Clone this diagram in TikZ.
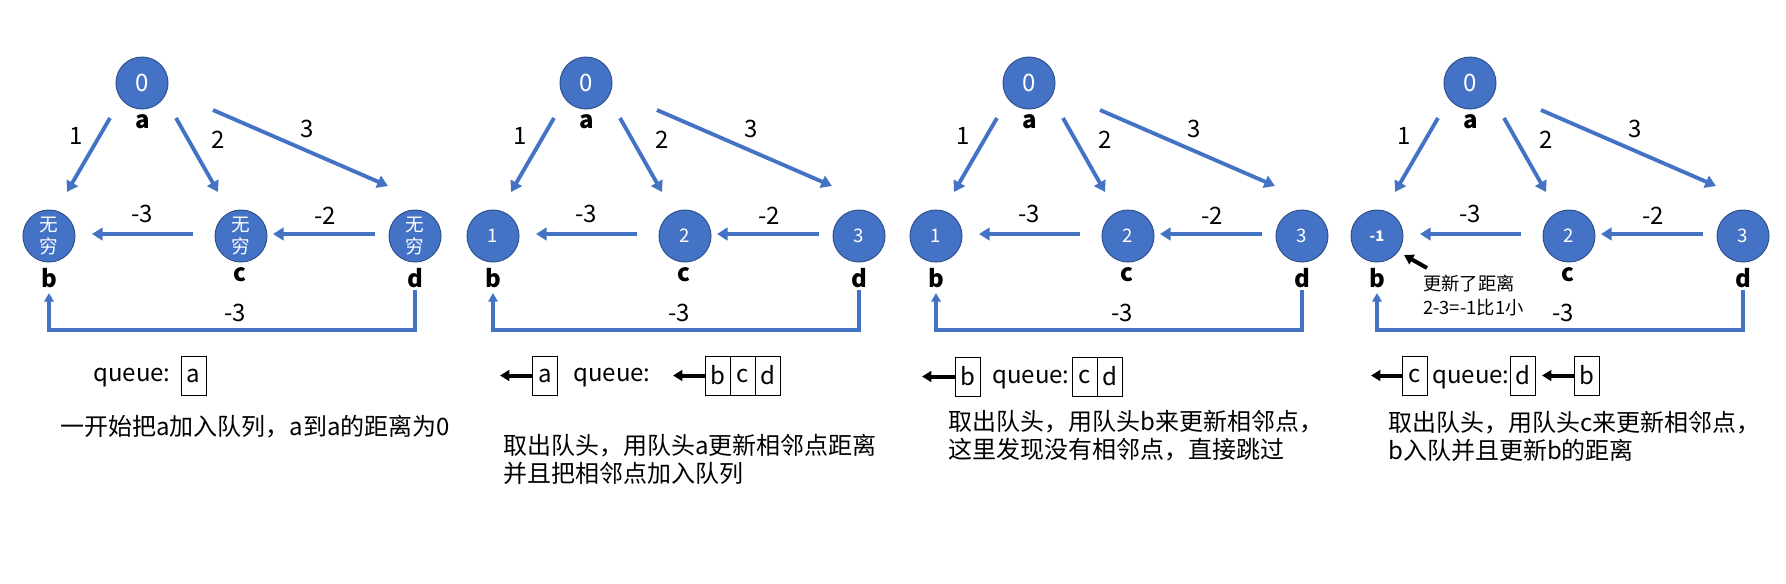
\documentclass[tikz,border=0pt]{standalone}
\usepackage{fontspec}
\setmainfont{Noto Sans CJK SC}
\usetikzlibrary{arrows.meta,calc,positioning}
\definecolor{vblue}{HTML}{4472C4}
\definecolor{vrim}{HTML}{2F528F}
\tikzset{
  vtx/.style={circle,fill=vblue,draw=vrim,line width=0.75pt,minimum size=39pt,
    inner sep=0pt,text=white,align=center,font=\fontsize{14}{16}\selectfont},
  tag/.style={inner sep=0pt,font=\fontsize{18}{20}\selectfont\bfseries},
  wt/.style={inner sep=0pt,font=\fontsize{18}{20}\selectfont},
  link/.style={draw=vblue,line width=2.9pt,-{Triangle[width=9.5pt,length=8pt]}},
  loopback/.style={draw=vblue,line width=2.4pt,-{Triangle[width=7pt,length=6.5pt]}},
  cell/.style={draw,line width=0.75pt,outer sep=0pt,inner sep=0pt,
    minimum width=18.75pt,minimum height=29.25pt,font=\fontsize{18}{20}\selectfont},
  pop/.style={line width=3pt,-{Triangle[width=8pt,length=7pt]}},
  note/.style={inner sep=0pt,anchor=west,align=left,font=\fontsize{18}{21}\selectfont}
}
\begin{document}
\begin{tikzpicture}[x=0.75pt,y=-0.75pt]
  \useasboundingbox (0,0) rectangle (1786,583);
  % the four snapshots of the graph
  \foreach \i/\X/\vb/\vc/\vd in {1/0/{无\\穷}/{无\\穷}/{无\\穷},2/444/1/2/3,3/887/1/2/3,
      4/1328/{\bfseries\fontsize{11}{12}\selectfont -1}/2/3}{
    \node[vtx,font=\fontsize{18}{20}\selectfont] (a\i) at (\X+142,83) {0};
    \node[vtx] (b\i) at (\X+49,236) {\vb};
    \node[vtx] (c\i) at (\X+241,236) {\vc};
    \node[vtx] (d\i) at (\X+415,236) {\vd};
    \node[tag] (la\i) at (\X+143,122) {a};
    \node[tag] (lb\i) at (\X+49,278) {b};
    \node[tag] (lc\i) at (\X+240,275) {c};
    \node[tag] (ld\i) at (\X+415,278) {d};
    \draw[link] ($(a\i)+(-32,35)$) -- ($(b\i)+(18,-44)$);
    \draw[link] ($(a\i)+(34,35)$) -- ($(c\i)+(-23,-44)$);
    \draw[link] ($(a\i)+(71,27)$) -- ($(d\i)+(-27,-50)$);
    \draw[link] ($(c\i)+(-48,-2)$) -- ($(b\i)+(43,-2)$);
    \draw[link] ($(d\i)+(-40,-2)$) -- ($(c\i)+(32,-2)$);
    \draw[loopback] ($(d\i)+(0,54)$) |- ($(b\i)+(0,94)$) -- ($(b\i)+(0,57)$);
    \node[wt] (wab\i) at (\X+76,136) {1};
    \node[wt] (wac\i) at (\X+218,140) {2};
    \node[wt] (wad\i) at (\X+307,129) {3};
    \node[wt] (wcb\i) at (\X+142,214) {-3};
    \node[wt] (wdc\i) at (\X+325,216) {-2};
    \node[wt] (wdb\i) at (\X+235,313) {-3};
  }
  % panel 1
  \node[note] (q1) at (93,378) {queue:};
  \node[cell] (q1a) at (193.5,375.5) {a};
  \node[note] (t1) at (60,427) {一开始把a加入队列，a到a的距离为0};
  % panel 2
  \node[cell] (p2a) at (545,375.5) {a};
  \coordinate (e2a) at (500,375.5);
  \draw[pop] (p2a) -- (e2a);
  \node[note] (q2) at (573,378) {queue:};
  \node[cell] (q2b) at (717.5,375.5) {b};
  \node[cell,right=0pt of q2b] (q2c) {c};
  \node[cell,right=0pt of q2c] (q2d) {d};
  \coordinate (e2b) at (673,375.5);
  \draw[pop] (q2b) -- (e2b);
  \node[note] (t2) at (503,459) {取出队头，用队头a更新相邻点距离\\并且把相邻点加入队列};
  % panel 3
  \node[cell] (p3b) at (968,376.5) {b};
  \coordinate (e3b) at (922,376.5);
  \draw[pop] (p3b) -- (e3b);
  \node[note] (q3) at (992,380) {queue:};
  \node[cell] (q3c) at (1084.5,376.5) {c};
  \node[cell,right=0pt of q3c] (q3d) {d};
  \node[note] (t3) at (948,436) {取出队头，用队头b来更新相邻点，\\这里发现没有相邻点，直接跳过};
  % panel 4
  \node[cell] (p4c) at (1414.5,375.5) {c};
  \coordinate (e4c) at (1371,375.5);
  \draw[pop] (p4c) -- (e4c);
  \node[note] (q4) at (1432,380) {queue:};
  \node[cell] (q4d) at (1522.5,375.5) {d};
  \node[cell] (q4b) at (1586.5,375.5) {b};
  \coordinate (e4b) at (1542,375.5);
  \draw[pop] (q4b) -- (e4b);
  \node[note] (t4) at (1388,436) {取出队头，用队头c来更新相邻点，\\b入队并且更新b的距离};
  \node[note,font=\fontsize{13.75}{18}\selectfont] (u4) at (1423,295) {更新了距离\\2-3=-1比1小};
  \draw[pop] ($(b4)+(50,32)$) -- ($(b4)+(27,19)$);
\end{tikzpicture}
\end{document}
